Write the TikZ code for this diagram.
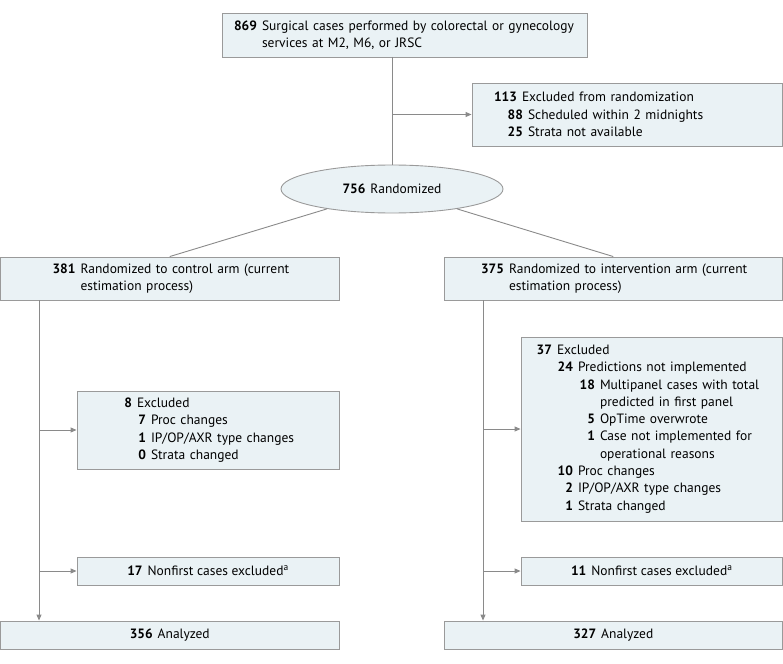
\documentclass[tikz,border=0pt]{standalone}
\usepackage{fontspec}
\setmainfont{PT Sans}
\usetikzlibrary{arrows.meta,shapes.geometric}
\definecolor{boxfill}{HTML}{EAF2F5}
\definecolor{boxline}{HTML}{9A9A9A}
\definecolor{connc}{HTML}{8A8A8A}
\newcommand{\lv}[3]{\hspace*{#1}\llap{\textbf{#2}\hspace{5pt}}#3}
\newcommand{\ct}[2]{\hspace*{#1}#2}
\begin{document}
\begin{tikzpicture}[x=1pt,y=-1pt,
  box/.style={draw=boxline, fill=boxfill, line width=0.9pt, inner sep=0pt, align=left,
    font=\fontsize{13.5pt}{17.3pt}\selectfont},
  cbox/.style={draw=boxline, fill=boxfill, line width=0.9pt, inner sep=0pt, align=center,
    font=\fontsize{13.5pt}{17.3pt}\selectfont},
  conn/.style={draw=connc, line width=0.9pt},
  arr/.style={conn, -{Triangle[width=5pt,length=6pt]}}]
\useasboundingbox (0,0) rectangle (783,663);

\node[box, minimum width=365pt, minimum height=44pt, text width=365pt] (top) at (404.5,35)
  {\lv{40pt}{869}{Surgical cases performed by colorectal or gynecology}\\ \ct{40pt}{services at M2, M6, or JRSC}};

\node[box, minimum width=310pt, minimum height=63pt, text width=310pt] (ex0) at (627,114.5)
  {\lv{50pt}{113}{Excluded from randomization}\\ \lv{56pt}{88}{Scheduled within 2 midnights}\\ \lv{56pt}{25}{Strata not available}};

\node[cbox, ellipse, minimum width=222pt, minimum height=48pt] (ell) at (392,189)
  {\textbf{756}\hspace{5pt}Randomized};

\node[box, minimum width=338.5pt, minimum height=43pt, text width=338.5pt] (ctrl) at (169.75,278.5)
  {\lv{80pt}{381}{Randomized to control arm (current}\\ \ct{80pt}{estimation process)}};
\node[box, minimum width=338.5pt, minimum height=43pt, text width=338.5pt] (intv) at (613.25,278.5)
  {\lv{65pt}{375}{Randomized to intervention arm (current}\\ \ct{65pt}{estimation process)}};

\node[box, minimum width=262pt, minimum height=78pt, text width=262pt] (exC) at (208,430)
  {\lv{60pt}{8}{Excluded}\\ \lv{74pt}{7}{Proc changes}\\ \lv{74pt}{1}{IP/OP/AXR type changes}\\ \lv{74pt}{0}{Strata changed}};

\node[box, minimum width=261.5pt, minimum height=184pt, text width=261.5pt] (exI) at (651.75,429)
  {\lv{36pt}{37}{Excluded}\\
   \lv{57pt}{24}{Predictions not implemented}\\
   \lv{79pt}{18}{Multipanel cases with total}\\
   \ct{79pt}{predicted in first panel}\\
   \lv{79pt}{5}{OpTime overwrote}\\
   \lv{79pt}{1}{Case not implemented for}\\
   \ct{79pt}{operational reasons}\\
   \lv{57pt}{10}{Proc changes}\\
   \lv{57pt}{2}{IP/OP/AXR type changes}\\
   \lv{57pt}{1}{Strata changed}};

\node[cbox, minimum width=262pt, minimum height=28pt] (nfC) at (208,571)
  {\textbf{17}\hspace{5pt}Nonfirst cases excluded\textsuperscript{a}};
\node[cbox, minimum width=261.5pt, minimum height=28pt] (nfI) at (651.75,571)
  {\textbf{11}\hspace{5pt}Nonfirst cases excluded\textsuperscript{a}};

\node[cbox, minimum width=338.5pt, minimum height=28pt] (anC) at (169.75,635)
  {\textbf{356}\hspace{5pt}Analyzed};
\node[cbox, minimum width=338.5pt, minimum height=28pt] (anI) at (613.25,635)
  {\textbf{327}\hspace{5pt}Analyzed};

% connectors
\coordinate (t0) at (392,57);
\coordinate (b0) at (392,114.5);
\draw[conn] (t0) -- (ell.north);
\draw[arr] (b0) -- (ex0.west);
\draw[conn] (ell.197) -- (ctrl.north);
\draw[conn] (ell.-17) -- (intv.north);

\coordinate (c1) at (39,300);
\draw[arr] (c1) -- (c1 |- anC.north);
\draw[arr] (c1 |- exC.west) -- (exC.west);
\draw[arr] (c1 |- nfC.west) -- (nfC.west);

\coordinate (i1) at (483,300);
\draw[arr] (i1) -- (i1 |- anI.north);
\draw[arr] (i1 |- exI.west) -- (exI.west);
\draw[arr] (i1 |- nfI.west) -- (nfI.west);
\end{tikzpicture}
\end{document}
